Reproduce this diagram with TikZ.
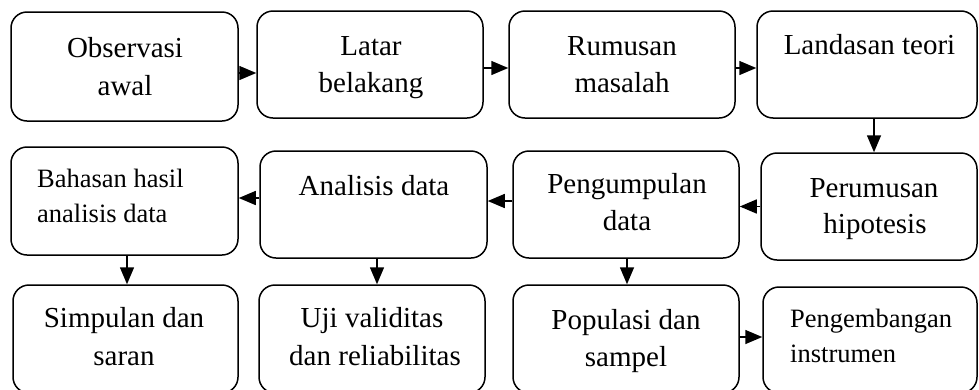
\documentclass[tikz,border=0pt]{standalone}
\usepackage{fontspec}
\setmainfont{Liberation Serif}
\usetikzlibrary{arrows.meta}
\begin{document}
\begin{tikzpicture}[x=1pt,y=-1pt,
  stepbox/.style={draw=black, line width=1.5pt, rounded corners=16pt, inner sep=0pt},
  bigtxt/.style={inner sep=0pt, anchor=base, font=\fontsize{29}{37}\selectfont},
  smalltxt/.style={inner sep=0pt, anchor=base west, font=\fontsize{26.5}{35}\selectfont},
  arr/.style={line width=1.5pt, -{Triangle[length=17pt,width=14pt]}}
]
\useasboundingbox (0,0) rectangle (979,389);

% boxes, first row
\node[stepbox, minimum width=227pt, minimum height=109pt] (b1) at (124.5,66.5) {};
\node[stepbox, minimum width=226pt, minimum height=107pt] (b2) at (370,64.5) {};
\node[stepbox, minimum width=226pt, minimum height=107pt] (b3) at (622,64.5) {};
\node[stepbox, minimum width=220pt, minimum height=107pt] (b4) at (867,64.5) {};

% boxes, second row
\node[stepbox, minimum width=227pt, minimum height=108pt] (c1) at (124.5,201) {};
\node[stepbox, minimum width=227pt, minimum height=107pt] (c2) at (373.5,204.5) {};
\node[stepbox, minimum width=226pt, minimum height=107pt] (c3) at (626,204.5) {};
\node[stepbox, minimum width=216pt, minimum height=107pt] (c4) at (869,206.5) {};

% boxes, third row
\node[stepbox, minimum width=225pt, minimum height=108pt] (d1) at (125.5,339) {};
\node[stepbox, minimum width=226pt, minimum height=108pt] (d2) at (372,339) {};
\node[stepbox, minimum width=226pt, minimum height=108pt] (d3) at (626,339) {};
\node[stepbox, minimum width=214pt, minimum height=106pt] (d4) at (870,340) {};

% labels, one node per line
\node[bigtxt] (b1l1) at (125,57) {Observasi};
\node[bigtxt] (b1l2) at (125,95) {awal};
\node[bigtxt] (b2l1) at (371,55) {Latar};
\node[bigtxt] (b2l2) at (371,92) {belakang};
\node[bigtxt] (b3l1) at (622,55) {Rumusan};
\node[bigtxt] (b3l2) at (622,92) {masalah};
\node[bigtxt] (b4l1) at (869.5,54) {Landasan teori};

\node[smalltxt] (c1l1) at (37,187) {Bahasan hasil};
\node[smalltxt] (c1l2) at (37,222) {analisis data};
\node[bigtxt] (c2l1) at (374,195) {Analisis data};
\node[bigtxt] (c3l1) at (627,193) {Pengumpulan};
\node[bigtxt] (c3l2) at (627,230) {data};
\node[bigtxt] (c4l1) at (874,197) {Perumusan};
\node[bigtxt] (c4l2) at (875,233) {hipotesis};

\node[bigtxt] (d1l1) at (124,327) {Simpulan dan};
\node[bigtxt] (d1l2) at (124,365) {saran};
\node[bigtxt] (d2l1) at (372,327) {Uji validitas};
\node[bigtxt] (d2l2) at (375,365) {dan reliabilitas};
\node[bigtxt] (d3l1) at (626,329) {Populasi dan};
\node[bigtxt] (d3l2) at (626,366) {sampel};
\node[smalltxt] (d4l1) at (790,327) {Pengembangan};
\node[smalltxt] (d4l2) at (790,362) {instrumen};

% connectors
\draw[arr] ([yshift=-6.5pt]b1.east) -- ([yshift=-6.5pt]b1.east -| b2.west);
\draw[arr] ([yshift=-3.5pt]b2.east) -- ([yshift=-3.5pt]b2.east -| b3.west);
\draw[arr] ([yshift=-3.5pt]b3.east) -- ([yshift=-3.5pt]b3.east -| b4.west);
\draw[arr] ([xshift=7pt]b4.south) -- ([xshift=7pt]b4.south |- c4.north);
\draw[arr] (c4.west) -- (c4.west -| c3.east);
\draw[arr] ([yshift=3.5pt]c3.west) -- ([yshift=3.5pt]c3.west -| c2.east);
\draw[arr] ([yshift=6.5pt]c2.west) -- ([yshift=6.5pt]c2.west -| c1.east);
\draw[arr] ([xshift=2.5pt]c1.south) -- ([xshift=2.5pt]c1.south |- d1.north);
\draw[arr] ([xshift=3.5pt]c2.south) -- ([xshift=3.5pt]c2.south |- d2.north);
\draw[arr] ([xshift=1pt]c3.south) -- ([xshift=1pt]c3.south |- d3.north);
\draw[arr] ([yshift=2pt]d3.east) -- ([yshift=2pt]d3.east -| d4.west);
\end{tikzpicture}
\end{document}
